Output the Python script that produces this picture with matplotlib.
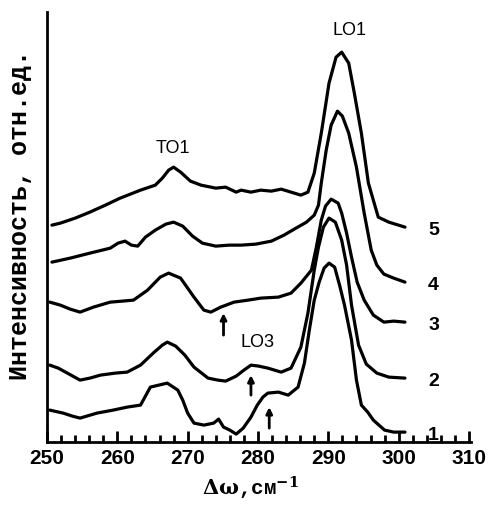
import matplotlib
matplotlib.use("Agg")
import matplotlib.pyplot as plt
from matplotlib.ticker import MultipleLocator

# спектры КРС, значения (Δω в см^-1, интенсивность в отн. ед.)
w5 = [250.7, 251.9, 254.0, 256.1, 258.3, 260.4, 263.3, 265.4, 266.4, 267.3, 268.0, 269.0, 270.4,
      271.9, 274.0, 275.4, 276.9, 277.6, 279.0, 280.4, 281.9, 283.3, 284.7, 286.1, 287.1, 288.0,
      289.0, 290.1, 291.1, 291.9, 292.9, 293.7, 294.7, 295.7, 297.1, 298.6, 300.9]
i5 = [21.7, 21.9, 22.4, 23.0, 23.7, 24.4, 25.2, 25.7, 26.4, 27.2, 27.5, 27.0, 26.1,
      25.7, 25.4, 25.5, 25.0, 25.2, 25.0, 25.2, 25.1, 25.3, 25.0, 24.7, 25.0, 26.9,
      30.9, 35.9, 38.5, 39.0, 37.9, 34.9, 30.9, 25.9, 22.5, 22.0, 21.5]

w4 = [250.7, 253.3, 256.1, 259.0, 260.1, 261.1, 262.0, 262.9, 264.0, 265.4, 266.9, 268.0, 269.3,
      270.7, 272.1, 274.0, 275.9, 277.6, 279.7, 281.9, 283.7, 285.4, 286.9, 288.0, 288.6, 289.0,
      289.7, 290.4, 291.3, 292.0, 292.9, 294.0, 295.1, 296.1, 296.9, 297.9, 299.3, 300.9]
i4 = [18.0, 18.4, 18.9, 19.4, 19.9, 20.1, 19.7, 19.6, 20.5, 21.2, 21.8, 22.0, 21.6,
      20.6, 19.9, 19.6, 19.7, 19.7, 19.8, 20.1, 20.7, 21.4, 22.0, 22.7, 23.7, 25.9,
      29.2, 31.7, 33.1, 32.6, 30.9, 27.5, 22.9, 19.2, 17.7, 16.8, 16.4, 16.0]

w3 = [250.4, 251.9, 253.3, 254.7, 256.6, 259.0, 260.7, 262.3, 264.3, 266.1, 267.3, 269.0, 270.9,
      272.3, 273.3, 274.7, 276.6, 278.6, 280.4, 282.9, 284.7, 286.1, 287.6, 288.3, 289.0, 289.6,
      290.4, 291.4, 291.9, 292.6, 293.3, 294.1, 295.1, 296.4, 297.9, 299.3, 300.9]
i3 = [14.0, 13.7, 13.3, 13.0, 13.5, 14.0, 14.1, 14.2, 15.2, 16.5, 16.9, 16.4, 14.5,
      13.2, 13.0, 13.5, 14.0, 14.2, 14.4, 14.5, 14.9, 15.9, 17.2, 19.5, 22.2, 23.6,
      24.3, 23.9, 22.9, 20.9, 18.5, 16.0, 14.2, 12.7, 12.0, 12.1, 12.0]

w2 = [250.4, 251.6, 252.9, 254.7, 256.1, 257.6, 259.7, 261.4, 263.3, 265.1, 266.4, 267.1, 268.3,
      269.6, 270.9, 272.9, 274.3, 275.4, 276.9, 278.0, 279.0, 280.1, 281.4, 283.3, 284.7, 286.1,
      287.1, 288.0, 288.6, 289.3, 290.1, 291.0, 291.9, 292.6, 293.3, 294.3, 295.4, 296.9, 298.6, 300.9]
i2 = [7.7, 7.4, 6.9, 6.2, 6.4, 6.7, 6.9, 7.0, 7.7, 8.9, 9.7, 10.0, 9.6,
      8.7, 7.5, 6.4, 6.2, 6.1, 6.6, 7.2, 7.7, 7.6, 7.4, 7.0, 7.4, 9.5,
      12.9, 17.2, 19.5, 21.5, 22.4, 22.0, 20.2, 17.7, 13.7, 9.7, 7.8, 6.9, 6.5, 6.4]

w1 = [250.4, 252.3, 253.6, 254.7, 257.1, 259.4, 261.4, 263.3, 264.7, 265.9, 267.1, 268.6, 269.3,
      270.0, 270.9, 272.3, 273.7, 274.4, 275.1, 276.0, 276.9, 277.9, 279.0, 279.9, 280.7, 281.4,
      282.9, 284.3, 285.7, 286.6, 287.3, 288.0, 288.7, 289.4, 290.1, 290.9, 291.6, 292.3, 293.3,
      294.0, 294.7, 295.6, 296.4, 298.0, 299.3, 300.9]
i1 = [3.2, 2.9, 2.6, 2.4, 2.9, 3.2, 3.5, 3.7, 5.5, 5.7, 5.9, 5.2, 4.2,
      2.9, 1.9, 1.7, 1.9, 2.3, 1.5, 1.2, 0.8, 1.4, 2.5, 3.7, 4.5, 4.9,
      5.0, 4.7, 5.5, 7.9, 11.2, 14.2, 16.0, 17.4, 17.9, 17.5, 15.7, 13.7, 10.2,
      6.2, 3.7, 3.0, 2.2, 1.2, 1.0, 1.0]

curves = [(w1, i1, "1"), (w2, i2, "2"), (w3, i3, "3"), (w4, i4, "4"), (w5, i5, "5")]

# стрелки LO3: (Δω, начало, конец)
arrows_x = [275.1, 279.0, 281.6]
arrows_y0 = [10.7, 4.7, 1.4]
arrows_y1 = [12.9, 6.7, 3.5]

plt.rcParams["mathtext.fontset"] = "dejavuserif"

fig = plt.figure(figsize=(4.92, 5.07), dpi=100)
ax = fig.add_axes([0.0955, 0.128, 0.862, 0.848])

for w, inten, lab in curves:
    ax.plot(w, inten, color="black", lw=2.3, solid_joinstyle="round", solid_capstyle="round")
    ax.text(304.2, inten[-1] - 0.3, lab, fontsize=14, fontweight="bold",
            family="Liberation Sans", va="center", ha="left")

for x, y0, y1 in zip(arrows_x, arrows_y0, arrows_y1):
    ax.annotate("", xy=(x, y1), xytext=(x, y0),
                arrowprops=dict(arrowstyle="-|>", color="black", lw=2, mutation_scale=9,
                                shrinkA=0, shrinkB=0))

ax.text(267.9, 29.4, "TO1", fontsize=13, family="Liberation Sans", ha="center", va="center")
ax.text(293.0, 41.2, "LO1", fontsize=13, family="Liberation Sans", ha="center", va="center")
ax.text(280.0, 10.0, "LO3", fontsize=13, family="Liberation Sans", ha="center", va="center")

ax.set_xlim(250, 310.3)
ax.set_ylim(0, 43)
ax.xaxis.set_major_locator(MultipleLocator(10))
ax.xaxis.set_minor_locator(MultipleLocator(2))
ax.set_yticks([])
ax.tick_params(axis="x", which="major", direction="in", length=8, width=2, pad=5,
               labelsize=15)
ax.tick_params(axis="x", which="minor", direction="in", length=5, width=2)
for lbl in ax.get_xticklabels():
    lbl.set_fontweight("bold")
    lbl.set_family("Liberation Sans")

for s in ["top", "right"]:
    ax.spines[s].set_visible(False)
for s in ["left", "bottom"]:
    ax.spines[s].set_linewidth(2)

ax.set_xlabel(r"$\mathbf{\Delta\omega}$,см$^{\mathbf{-1}}$", fontsize=15, fontweight="bold",
              family="Liberation Mono")
ax.xaxis.set_label_coords(0.48, -0.075)
ax.set_ylabel("Интенсивность, отн.ед.", fontsize=18, fontweight="bold",
              family="Liberation Mono")
ax.yaxis.set_label_coords(-0.035, 0.528)

fig.savefig("out.png", dpi=100)
